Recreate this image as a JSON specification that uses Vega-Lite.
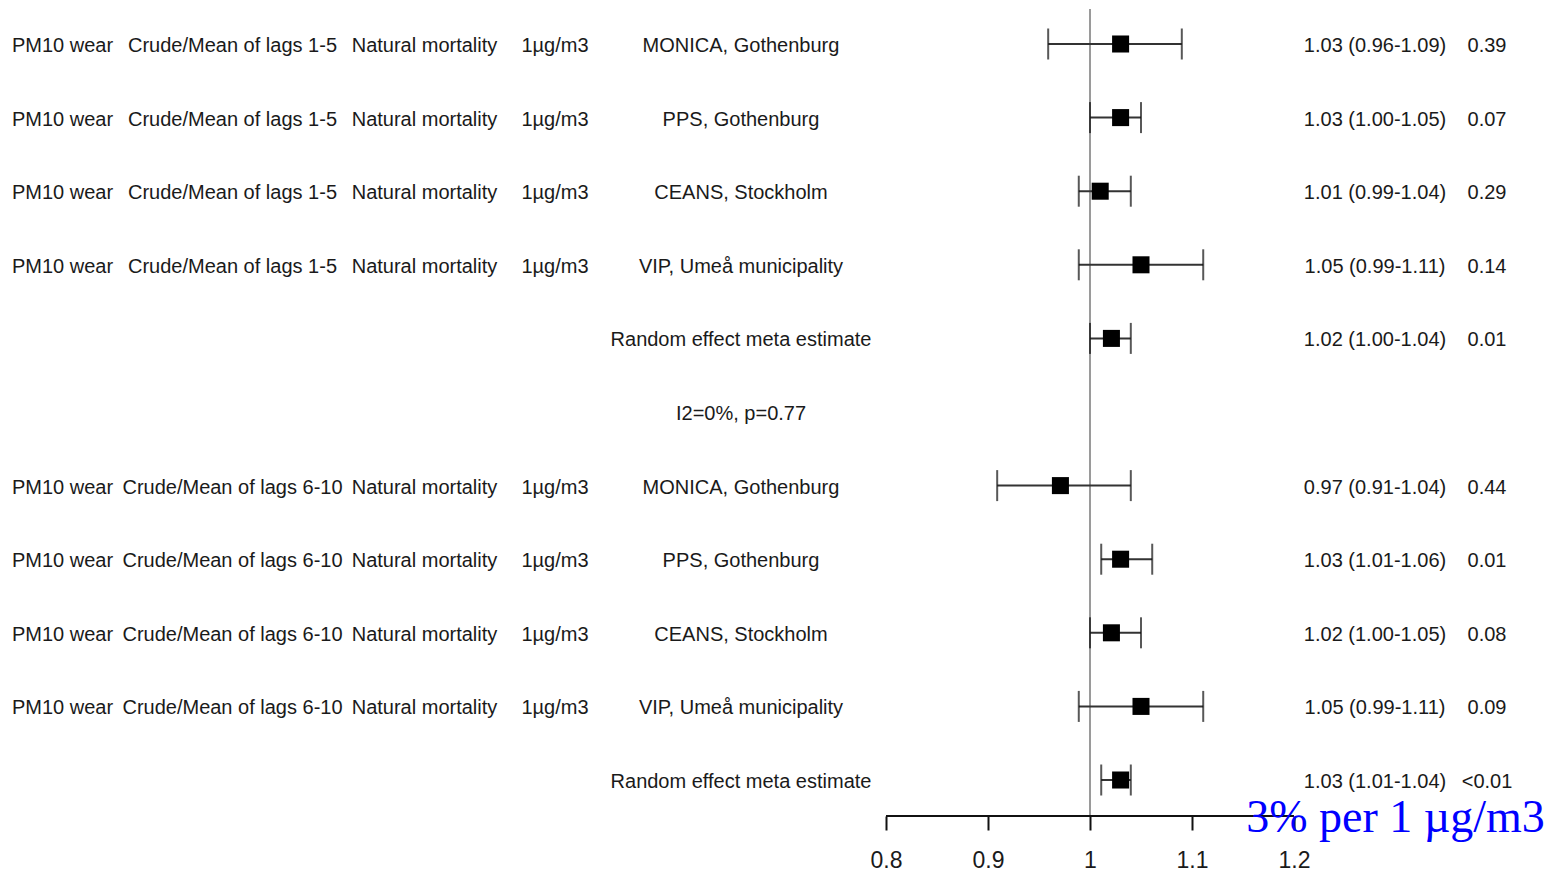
{
  "$schema": "https://vega.github.io/schema/vega-lite/v6.json",
  "width": 1555,
  "height": 816,
  "padding": 0,
  "background": "white",
  "config": {"view": {"stroke": null}, "text": {"font": "Liberation Sans", "fontSize": 20, "color": "#1a1a1a"}},
  "data": {"values": [
    {"row": 1, "exposure": "PM10 wear", "model": "Crude/Mean of lags 1-5", "outcome": "Natural mortality", "unit": "1µg/m3", "study": "MONICA, Gothenburg", "est": 1.03, "lo": 0.959, "hi": 1.09, "label": "1.03 (0.96-1.09)", "p": "0.39"},
    {"row": 2, "exposure": "PM10 wear", "model": "Crude/Mean of lags 1-5", "outcome": "Natural mortality", "unit": "1µg/m3", "study": "PPS, Gothenburg", "est": 1.03, "lo": 1.0, "hi": 1.05, "label": "1.03 (1.00-1.05)", "p": "0.07"},
    {"row": 3, "exposure": "PM10 wear", "model": "Crude/Mean of lags 1-5", "outcome": "Natural mortality", "unit": "1µg/m3", "study": "CEANS, Stockholm", "est": 1.01, "lo": 0.989, "hi": 1.04, "label": "1.01 (0.99-1.04)", "p": "0.29"},
    {"row": 4, "exposure": "PM10 wear", "model": "Crude/Mean of lags 1-5", "outcome": "Natural mortality", "unit": "1µg/m3", "study": "VIP, Umeå municipality", "est": 1.05, "lo": 0.989, "hi": 1.111, "label": "1.05 (0.99-1.11)", "p": "0.14"},
    {"row": 5, "exposure": "", "model": "", "outcome": "", "unit": "", "study": "Random effect meta estimate", "est": 1.021, "lo": 1.0, "hi": 1.04, "label": "1.02 (1.00-1.04)", "p": "0.01"},
    {"row": 6, "exposure": "", "model": "", "outcome": "", "unit": "", "study": "I2=0%, p=0.77", "est": null, "lo": null, "hi": null, "label": "", "p": ""},
    {"row": 7, "exposure": "PM10 wear", "model": "Crude/Mean of lags 6-10", "outcome": "Natural mortality", "unit": "1µg/m3", "study": "MONICA, Gothenburg", "est": 0.971, "lo": 0.909, "hi": 1.04, "label": "0.97 (0.91-1.04)", "p": "0.44"},
    {"row": 8, "exposure": "PM10 wear", "model": "Crude/Mean of lags 6-10", "outcome": "Natural mortality", "unit": "1µg/m3", "study": "PPS, Gothenburg", "est": 1.03, "lo": 1.011, "hi": 1.061, "label": "1.03 (1.01-1.06)", "p": "0.01"},
    {"row": 9, "exposure": "PM10 wear", "model": "Crude/Mean of lags 6-10", "outcome": "Natural mortality", "unit": "1µg/m3", "study": "CEANS, Stockholm", "est": 1.021, "lo": 1.0, "hi": 1.05, "label": "1.02 (1.00-1.05)", "p": "0.08"},
    {"row": 10, "exposure": "PM10 wear", "model": "Crude/Mean of lags 6-10", "outcome": "Natural mortality", "unit": "1µg/m3", "study": "VIP, Umeå municipality", "est": 1.05, "lo": 0.989, "hi": 1.111, "label": "1.05 (0.99-1.11)", "p": "0.09"},
    {"row": 11, "exposure": "", "model": "", "outcome": "", "unit": "", "study": "Random effect meta estimate", "est": 1.03, "lo": 1.011, "hi": 1.04, "label": "1.03 (1.01-1.04)", "p": "<0.01"}
  ]},
  "encoding": {
    "y": {"field": "row", "type": "quantitative", "scale": {"domain": [0.4022, 11.489], "reverse": true, "nice": false, "zero": false}, "axis": null}
  },
  "layer": [
    {
      "mark": {"type": "rule", "color": "#9a9a9a", "strokeWidth": 2},
      "encoding": {
        "x": {"datum": 1, "type": "quantitative", "scale": {"domain": [-0.06863, 1.45588], "nice": false, "zero": false},
          "axis": {"values": [0.8, 0.9, 1, 1.1, 1.2], "format": "~g", "domain": false, "grid": false, "tickSize": 14, "tickWidth": 2, "tickColor": "#111", "labelFont": "Liberation Sans", "labelFontSize": 23, "labelColor": "#1a1a1a", "labelPadding": 19, "title": null, "labelFlush": false}},
        "y": {"datum": 0.525},
        "y2": {"datum": 11.489}
      }
    },
    {
      "mark": {"type": "rule", "color": "#111", "strokeWidth": 2},
      "encoding": {"x": {"datum": 0.8}, "x2": {"datum": 1.2}, "y": {"datum": 11.489}}
    },
    {
      "mark": {"type": "rule", "color": "#333", "strokeWidth": 2},
      "encoding": {"x": {"field": "lo", "type": "quantitative"}, "x2": {"field": "hi"}}
    },
    {
      "mark": {"type": "tick", "orient": "vertical", "size": 31, "thickness": 2, "color": "#111"},
      "encoding": {"x": {"field": "lo", "type": "quantitative"}}
    },
    {
      "mark": {"type": "tick", "orient": "vertical", "size": 31, "thickness": 2, "color": "#111"},
      "encoding": {"x": {"field": "hi", "type": "quantitative"}}
    },
    {
      "mark": {"type": "point", "shape": "square", "filled": true, "size": 290, "color": "#000", "opacity": 1},
      "encoding": {"x": {"field": "est", "type": "quantitative"}}
    },
    {
      "mark": {"type": "text", "align": "center", "baseline": "middle", "dy": 2},
      "encoding": {"x": {"datum": -0.00735}, "text": {"field": "exposure"}}
    },
    {
      "mark": {"type": "text", "align": "center", "baseline": "middle", "dy": 2},
      "encoding": {"x": {"datum": 0.15931}, "text": {"field": "model"}}
    },
    {
      "mark": {"type": "text", "align": "center", "baseline": "middle", "dy": 2},
      "encoding": {"x": {"datum": 0.34755}, "text": {"field": "outcome"}}
    },
    {
      "mark": {"type": "text", "align": "center", "baseline": "middle", "dy": 2},
      "encoding": {"x": {"datum": 0.47549}, "text": {"field": "unit"}}
    },
    {
      "mark": {"type": "text", "align": "center", "baseline": "middle", "dy": 2},
      "encoding": {"x": {"datum": 0.65784}, "text": {"field": "study"}}
    },
    {
      "mark": {"type": "text", "align": "center", "baseline": "middle", "dy": 2},
      "encoding": {"x": {"datum": 1.27941}, "text": {"field": "label"}}
    },
    {
      "mark": {"type": "text", "align": "center", "baseline": "middle", "dy": 2},
      "encoding": {"x": {"datum": 1.38922}, "text": {"field": "p"}}
    },
    {
      "data": {"values": [{"note": "3% per 1 µg/m3", "row": 11.7}]},
      "mark": {"type": "text", "align": "center", "baseline": "alphabetic", "font": "Liberation Serif", "fontSize": 46, "color": "#0000ff"},
      "encoding": {"x": {"datum": 1.29951}, "y": {"field": "row", "type": "quantitative"}, "text": {"field": "note"}}
    }
  ]
}
